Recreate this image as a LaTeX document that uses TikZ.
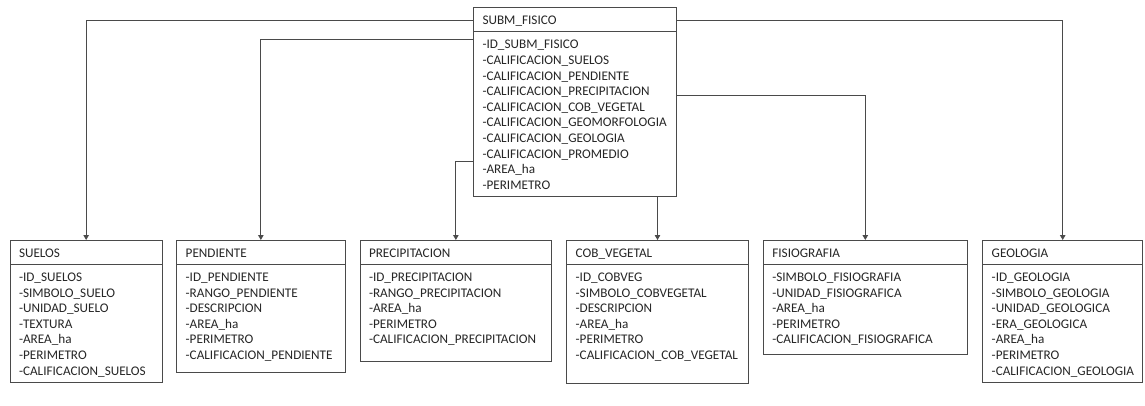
\documentclass[tikz,border=0pt]{standalone}
\usepackage{fontspec}
\setmainfont{Carlito}
\usetikzlibrary{arrows.meta,fit}

\definecolor{ink}{HTML}{262626}
\definecolor{rulecol}{HTML}{4A4A4A}

\tikzset{
  classbox/.style={draw=rulecol, line width=0.9pt, inner sep=0pt, outer sep=0pt},
  txt/.style={inner sep=0pt, outer sep=0pt, anchor=base west, text=ink,
              font=\fontsize{13.2}{15.6}\selectfont},
  link/.style={draw=rulecol, line width=0.9pt, -{Triangle[length=5pt,width=5.5pt]}},
}

% #1 name, #2 left, #3 top, #4 right, #5 bottom, #6 title, #7 attributes
\newcommand{\umlclass}[7]{%
  \node[classbox, fit={(#2,#3) (#4,#5)}] (#1) {};
  \draw[draw=rulecol, line width=0.9pt]
    ([yshift=-24.5pt]#1.north west) -- ([yshift=-24.5pt]#1.north east);
  \node[txt] (#1-title) at ([xshift=9pt,yshift=-17.5pt]#1.north west) {#6};
  \foreach \a [count=\i] in {#7}
    \node[txt] (#1-a\i) at ([xshift=9pt,yshift={-(41.5+15.6*(\i-1))}]#1.north west) {\a};
}

\begin{document}
\begin{tikzpicture}[x=1pt,y=-1pt]
  \fill[white] (0,0) rectangle (1145,405);
  \useasboundingbox (0,0) rectangle (1145,405);

  % central table
  \umlclass{fis}{473.5}{7.3}{676}{196.7}{SUBM\_FISICO}{%
    -ID\_SUBM\_FISICO,-CALIFICACION\_SUELOS,-CALIFICACION\_PENDIENTE,%
    -CALIFICACION\_PRECIPITACION,-CALIFICACION\_COB\_VEGETAL,%
    -CALIFICACION\_GEOMORFOLOGIA,-CALIFICACION\_GEOLOGIA,%
    -CALIFICACION\_PROMEDIO,-AREA\_ha,-PERIMETRO}

  % thematic tables
  \umlclass{suelos}{10}{240}{162.3}{382.7}{SUELOS}{%
    -ID\_SUELOS,-SIMBOLO\_SUELO,-UNIDAD\_SUELO,-TEXTURA,-AREA\_ha,%
    -PERIMETRO,-CALIFICACION\_SUELOS}
  \umlclass{pend}{176.7}{240}{345}{372.7}{PENDIENTE}{%
    -ID\_PENDIENTE,-RANGO\_PENDIENTE,-DESCRIPCION,-AREA\_ha,-PERIMETRO,%
    -CALIFICACION\_PENDIENTE}
  \umlclass{prec}{360}{240}{551.7}{361}{PRECIPITACION}{%
    -ID\_PRECIPITACION,-RANGO\_PRECIPITACION,-AREA\_ha,-PERIMETRO,%
    -CALIFICACION\_PRECIPITACION}
  \umlclass{cob}{566.7}{240}{748.3}{383.3}{COB\_VEGETAL}{%
    -ID\_COBVEG,-SIMBOLO\_COBVEGETAL,-DESCRIPCION,-AREA\_ha,-PERIMETRO,%
    -CALIFICACION\_COB\_VEGETAL}
  \umlclass{fisio}{763.3}{240}{967.3}{354.3}{FISIOGRAFIA}{%
    -SIMBOLO\_FISIOGRAFIA,-UNIDAD\_FISIOGRAFICA,-AREA\_ha,-PERIMETRO,%
    -CALIFICACION\_FISIOGRAFICA}
  \umlclass{geol}{982.7}{240}{1142.7}{382.7}{GEOLOGIA}{%
    -ID\_GEOLOGIA,-SIMBOLO\_GEOLOGIA,-UNIDAD\_GEOLOGICA,-ERA\_GEOLOGICA,%
    -AREA\_ha,-PERIMETRO,-CALIFICACION\_GEOLOGIA}

  % relations
  \draw[link] ([yshift=-13.4pt]fis.north west) -| (suelos.north);
  \draw[link] ([yshift=-32pt]fis.north west) -| (pend.north);
  \draw[link] ([yshift=-154.4pt]fis.north west) -| (prec.north);
  \draw[link] (fis.south -| cob.north) -- (cob.north);
  \draw[link] ([yshift=-87.7pt]fis.north east) -| (fisio.north);
  \draw[link] ([yshift=-13.4pt]fis.north east) -| (geol.north);
\end{tikzpicture}
\end{document}
